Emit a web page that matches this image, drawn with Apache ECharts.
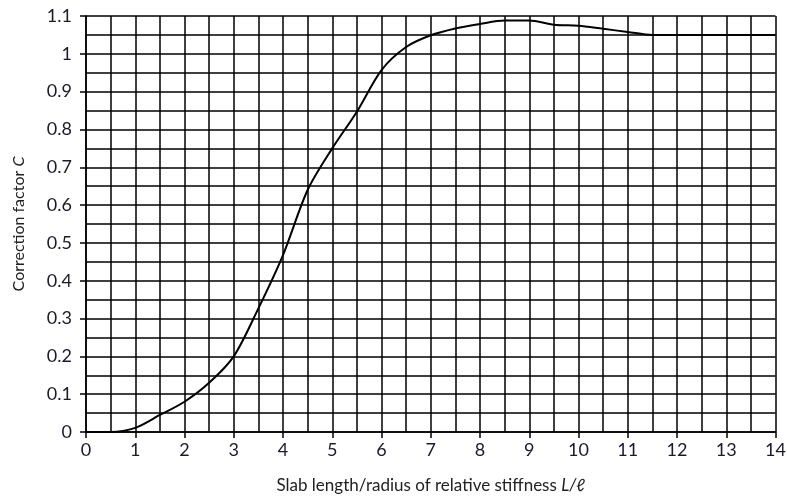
<!DOCTYPE html>
<html>
<head>
<meta charset="utf-8">
<script src="https://cdn.jsdelivr.net/npm/echarts@6/dist/echarts.min.js"></script>
<style>html,body{margin:0;padding:0;background:#fff}#c{width:787px;height:499px}</style>
</head>
<body>
<div id="c"></div>
<script>
var xValues = [0, 0.5, 1, 1.5, 2, 2.5, 3, 3.5, 4, 4.5, 5, 5.5, 6, 6.5, 7, 7.5, 8, 8.5, 9, 9.5, 10, 10.5, 11, 11.5, 12, 13, 14];
var cValues = [0, 0, 0.011, 0.045, 0.08, 0.13, 0.2, 0.327, 0.468, 0.64, 0.75, 0.847, 0.957, 1.018, 1.049, 1.067, 1.079, 1.088, 1.088, 1.077, 1.074, 1.066, 1.058, 1.05, 1.05, 1.05, 1.05];
var yAxisName = 'Correction factor';
var xAxisName = 'Slab length/radius of relative stiffness';

var chart = echarts.init(document.getElementById('c'));
var font = 'Lato, "Open Sans", sans-serif';
chart.setOption({
  animation: false,
  grid: {left: 86, right: 11.5, top: 16, bottom: 67, containLabel: false, outerBoundsMode: 'none'},
  xAxis: {
    type: 'value', min: 0, max: 14, interval: 1,
    name: xAxisName + ' {i|L/ℓ}',
    nameLocation: 'middle', nameGap: 45,
    nameTextStyle: {fontFamily: font, fontSize: 17, color: '#222',
      rich: {i: {fontFamily: font, fontSize: 17, fontStyle: 'italic', color: '#222'}}},
    axisLine: {show: true, onZero: false, lineStyle: {color: '#000', width: 1.5}},
    axisTick: {show: true, length: 6, lineStyle: {color: '#000', width: 1.5}},
    axisLabel: {fontFamily: font, fontSize: 18, color: '#1a1a2a', margin: 9},
    splitLine: {show: true, lineStyle: {color: '#000', width: 1.5}},
    minorTick: {show: false, splitNumber: 2},
    minorSplitLine: {show: true, lineStyle: {color: '#000', width: 1.5}}
  },
  yAxis: {
    type: 'value', min: 0, max: 1.1, interval: 0.1,
    name: yAxisName + ' {i|C}',
    nameLocation: 'middle', nameGap: 59,
    nameTextStyle: {fontFamily: font, fontSize: 16, color: '#222',
      rich: {i: {fontFamily: font, fontSize: 16, fontStyle: 'italic', color: '#222'}}},
    axisLine: {show: true, lineStyle: {color: '#000', width: 1.5}},
    axisTick: {show: true, length: 6, lineStyle: {color: '#000', width: 1.5}},
    axisLabel: {fontFamily: font, fontSize: 18, color: '#1a1a2a', margin: 14,
      formatter: function (v) { return String(Math.round(v * 10) / 10); }},
    splitLine: {show: true, lineStyle: {color: '#000', width: 1.5}},
    minorTick: {show: false, splitNumber: 2},
    minorSplitLine: {show: true, lineStyle: {color: '#000', width: 1.5}}
  },
  series: [{
    type: 'line',
    data: xValues.map(function (x, i) { return [x, cValues[i]]; }),
    smooth: 0.3,
    symbol: 'none',
    lineStyle: {color: '#000', width: 2}
  }]
});
</script>
</body>
</html>
